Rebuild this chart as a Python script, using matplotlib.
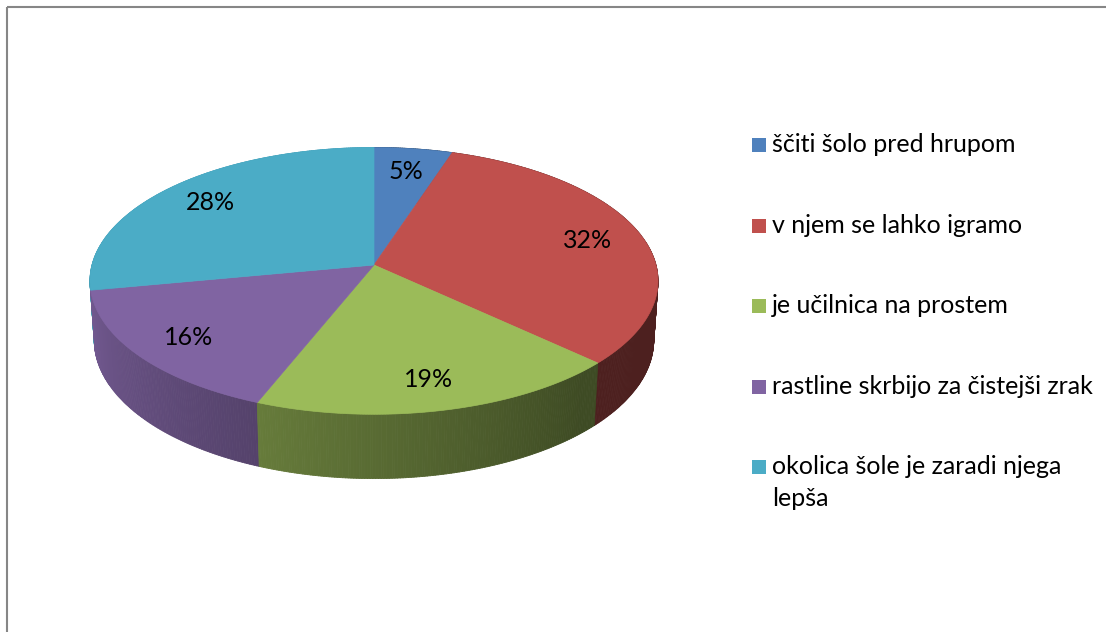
import numpy as np
import matplotlib
matplotlib.use("Agg")
import matplotlib.pyplot as plt
from matplotlib.patches import Polygon, Rectangle
from matplotlib.collections import PolyCollection
from matplotlib.colors import to_rgb

plt.rcParams["font.family"] = ["Lato", "DejaVu Sans"]

# ── data ───────────────────────────────────────────────────────────────────
labels = ["ščiti šolo pred hrupom", "v njem se lahko igramo", "je učilnica na prostem",
          "rastline skrbijo za čistejši zrak", "okolica šole je zaradi njega\nlepša"]
shares = [5, 32, 19, 16, 28]
colors = ["#4F81BD", "#C0504D", "#9BBB59", "#8064A2", "#4BACC6"]

# ── 3d pie geometry (pixel space) ──────────────────────────────────────────
W, H   = 1106, 632
CX, CY = 374, 265          # apex on screen
SCALE  = 282               # half width at mid depth
TILT   = np.radians(27.8)
PERSP  = 0.119
THICK  = 0.24
D      = np.cos(TILT) / PERSP

def project(theta, r=1.0, y=0.0):
    X = r * np.sin(theta); Z = r * np.cos(theta)
    yv = Z * np.sin(TILT) + y * np.cos(TILT)
    depth = D + Z * np.cos(TILT) - y * np.sin(TILT)
    return CX + SCALE * D * X / depth, CY - SCALE * D * yv / depth, depth

def side_shade(theta):
    deg = np.degrees(theta) % 360
    return np.clip(0.41 + (deg - 140) / 120 * 0.49, 0.40, 0.92)

fracs = np.array(shares) / sum(shares)
bounds = np.concatenate([[0], np.cumsum(fracs)]) * 2 * np.pi

fig = plt.figure(figsize=(W / 100, H / 100), dpi=100)
ax = fig.add_axes([0, 0, 1, 1])
ax.set_xlim(0, W); ax.set_ylim(H, 0); ax.axis("off")

# side walls: thin quads sorted far -> near
quads, qcols, qdepth = [], [], []
step = np.radians(0.5)
for a0, a1, c in zip(bounds[:-1], bounds[1:], colors):
    base = np.array(to_rgb(c))
    ts = np.arange(a0, a1 + 1e-9, step)
    if ts[-1] < a1: ts = np.append(ts, a1)
    for t0, t1 in zip(ts[:-1], ts[1:]):
        p0 = project(t0); p1 = project(t1)
        q0 = project(t0, y=-THICK); q1 = project(t1, y=-THICK)
        quads.append([(p0[0], p0[1]), (p1[0], p1[1]), (q1[0], q1[1]), (q0[0], q0[1])])
        qcols.append(base * side_shade((t0 + t1) / 2))
        qdepth.append((p0[2] + p1[2]) / 2)
order = np.argsort(qdepth)[::-1]
ax.add_collection(PolyCollection([quads[i] for i in order],
                                 facecolors=[qcols[i] for i in order],
                                 edgecolors=[qcols[i] for i in order], linewidths=0.6))

# top faces
for a0, a1, c in zip(bounds[:-1], bounds[1:], colors):
    ts = np.linspace(a0, a1, 200)
    xs, ys, _ = project(ts)
    pts = [(CX, CY)] + list(zip(xs, ys))
    ax.add_patch(Polygon(pts, closed=True, facecolor=c, edgecolor=c, linewidth=0.5))

# percent labels
for a0, a1, s in zip(bounds[:-1], bounds[1:], shares):
    lx, ly, _ = project((a0 + a1) / 2, r=0.8)
    ax.text(lx, ly + 1, f"{s}%", ha="center", va="center", fontsize=18, color="black")

# legend
row_y = [145, 226, 306, 387, 467]
for yy, lab, c in zip(row_y, labels, colors):
    ax.add_patch(Rectangle((752, yy - 7), 14, 14, facecolor=c, edgecolor="none"))
    ax.text(772, yy - 12, lab, ha="left", va="top", fontsize=18,
            color="black", linespacing=1.45)

# chart border
ax.add_patch(Rectangle((6.5, 6.5), 1300, 1000, fill=False,
                       edgecolor="#868686", linewidth=1.5))

fig.savefig("out.png", dpi=100)
